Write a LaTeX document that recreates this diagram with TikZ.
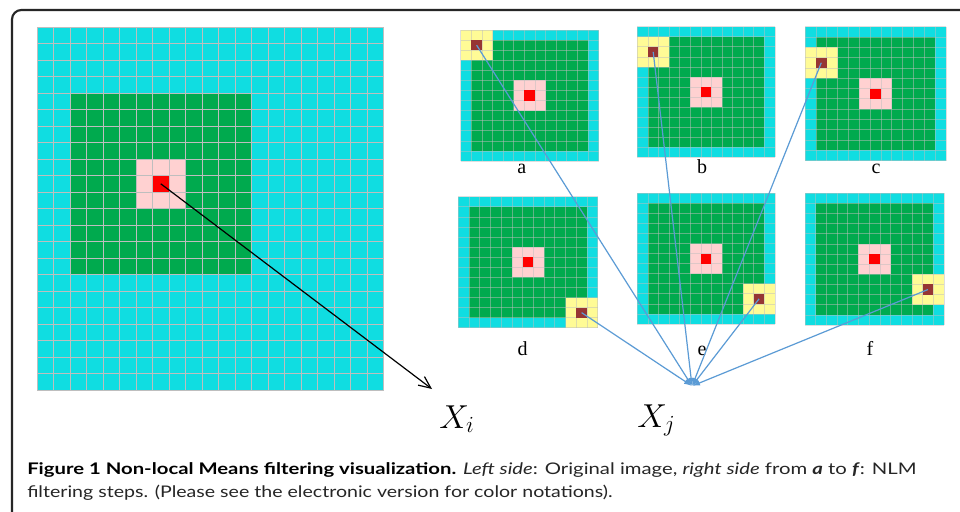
\documentclass[tikz,border=0pt]{standalone}
\usepackage{fontspec}
\usepackage{graphicx}
\usetikzlibrary{arrows.meta}
\newfontfamily\lblfont{Liberation Serif}
\newfontfamily\capfont{Lato}
\definecolor{pixcyan}{RGB}{16,221,225}
\definecolor{pixgreen}{RGB}{0,170,78}
\definecolor{pixpink}{RGB}{255,209,209}
\definecolor{pixred}{RGB}{255,0,0}
\definecolor{pixyellow}{RGB}{255,251,150}
\definecolor{pixbrown}{RGB}{150,54,52}
\definecolor{pixline}{RGB}{190,190,190}
\definecolor{linkblue}{RGB}{91,155,213}

\begin{document}
\begin{tikzpicture}[x=0.75pt, y=-0.75pt,
	gridline/.style={draw=pixline, line width=0.7pt},
	smallline/.style={draw=pixline, line width=0.5pt, opacity=0.5},
	letter/.style={font=\lblfont\fontsize{15}{18}\selectfont, anchor=base, inner sep=0pt},
	mathlbl/.style={font=\fontsize{25}{30}\selectfont, anchor=base west, inner sep=0pt},
	capline/.style={font=\capfont\fontsize{12}{15}\selectfont, anchor=base west, inner sep=0pt, text=black!85},
	linkarrow/.style={draw=linkblue, line width=0.9pt, -{Latex[length=6pt, width=4pt]}},
	bigarrow/.style={draw=black, line width=0.9pt, -{Straight Barb[length=9pt, width=8pt]}}]
	\useasboundingbox (0,0) rectangle (960,511);
	\fill[white] (0,0) rectangle (960,511);
	\draw[line width=1.6pt, draw=black!85, rounded corners=7pt] (12,515) -- (12,10) -- (965,10);

	\begin{scope}[shift={(37,27)}, xscale=16.5, yscale=16.5]
		\fill[pixcyan] (0,0) rectangle (21,22);
		\fill[pixgreen] (2,4) rectangle (13,15);
		\fill[pixpink] (6,8) rectangle (9,11);
		\foreach \k in {0,...,21} \draw[gridline] (\k,0) -- (\k,22);
		\foreach \k in {0,...,22} \draw[gridline] (0,\k) -- (21,\k);
		\fill[pixred] (7,9) rectangle (8,10);
		\coordinate (ctr) at (7.5,9.5);
	\end{scope}

	\foreach \nm/\px/\py/\cw/\ch/\yc/\yr in {a/460.7/30/10.6/10.08/0/0, b/637.3/26.7/10.59/10.05/0/1,
		c/805/26.7/10.85/10.3/0/2, d/458.3/196.7/10.72/10.08/10/10,
		e/637.3/193.3/10.59/10.05/10/9, f/805/193.3/10.69/10.13/10/8} {
		\begin{scope}[shift={(\px,\py)}, xscale=\cw, yscale=\ch]
			\fill[pixcyan] (0,0) rectangle (13,13);
			\fill[pixgreen] (1,1) rectangle (12,12);
			\fill[pixpink] (5,5) rectangle (8,8);
			\fill[pixyellow] (\yc,\yr) rectangle ++(3,3);
			\foreach \k in {0,...,13} {
				\draw[smallline] (\k,0) -- (\k,13);
				\draw[smallline] (0,\k) -- (13,\k);
			}
			\fill[pixred] (6,6) rectangle (7,7);
			\fill[pixbrown] (\yc+1,\yr+1) rectangle ++(1,1);
			\coordinate (p\nm) at (\yc+1.5,\yr+1.5);
		\end{scope}
	}

	\foreach \nm/\lx/\ly in {a/521.7/173, b/702/173, c/876/173, d/522.7/355, e/702/355, f/870/355}
		\node[letter] (lbl\nm) at (\lx,\ly) {\nm};

	\node[mathlbl] (xi) at (439,428) {$X_i$};
	\node[mathlbl] (xj) at (637,427) {$X_j$};
	\coordinate (tipi) at (432,389);
	\coordinate (tipj) at (692,386);

	\draw[bigarrow] (ctr) -- (tipi);
	\foreach \nm in {a,...,f}
		\draw[linkarrow] (p\nm) -- (tipj);

	\node[capline] (cap1) at (27,474) {\resizebox{667pt}{\height}{{\bfseries\color{black}Figure 1 Non-local Means filtering visualization.} \textit{Left side}: Original image, \textit{right side} from \textbf{\textit{a}} to \textbf{\textit{f}}: NLM}};
	\node[capline] (cap2) at (27,497) {\resizebox{439pt}{\height}{filtering steps. (Please see the electronic version for color notations).}};
\end{tikzpicture}
\end{document}
